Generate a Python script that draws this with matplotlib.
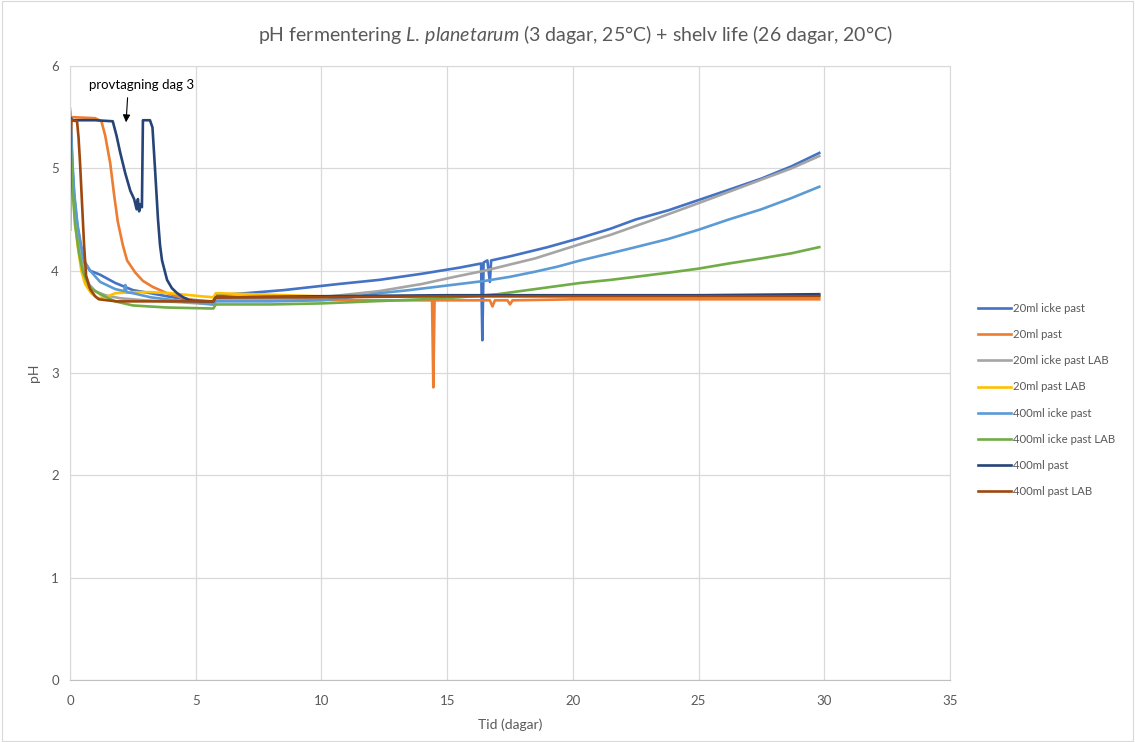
import numpy as np
import matplotlib.pyplot as plt

plt.rcParams['font.family'] = ['Lato', 'DejaVu Sans']
plt.rcParams['mathtext.fontset'] = 'custom'
plt.rcParams['mathtext.it'] = 'Lato:italic'
plt.rcParams['mathtext.rm'] = 'Lato'

# tid (dagar) och pH, avlästa punkter
t_20_icke = [0, 0.05, 0.1, 0.17, 0.3, 0.44, 0.56, 0.8, 1.2, 1.8, 2.5, 3.2, 3.85, 4.6, 5.6, 5.7, 5.8, 7.0, 8.5, 10.7, 12.3,
             14.0, 15.5, 16.35, 16.4, 16.45, 16.6, 16.7, 16.75, 17.5, 19.0, 20.3, 21.5, 22.5, 23.8, 25.0, 26.2, 27.5, 28.7, 29.8]
ph_20_icke = [5.55, 5.3, 5.0, 4.72, 4.42, 4.22, 4.08, 4.0, 3.96, 3.88, 3.81, 3.78, 3.75, 3.72, 3.7, 3.7, 3.76, 3.78, 3.81, 3.87, 3.91,
              3.97, 4.03, 4.07, 3.32, 4.08, 4.1, 3.89, 4.1, 4.14, 4.23, 4.32, 4.41, 4.5, 4.59, 4.69, 4.79, 4.9, 5.02, 5.15]

t_20_past = [0, 0.1, 1.0, 1.25, 1.4, 1.6, 1.75, 1.9, 2.1, 2.27, 2.6, 2.9, 3.3, 3.86, 4.4, 4.9, 5.7, 5.8, 8.0, 12.0, 14.4, 14.45,
             14.5, 16.7, 16.8, 16.9, 17.4, 17.5, 17.6, 20.0, 25.0, 29.8]
ph_20_past = [5.5, 5.5, 5.49, 5.46, 5.32, 5.05, 4.75, 4.48, 4.25, 4.1, 3.98, 3.9, 3.84, 3.78, 3.74, 3.71, 3.69, 3.72, 3.72, 3.71,
              3.71, 2.86, 3.71, 3.71, 3.65, 3.71, 3.71, 3.67, 3.71, 3.72, 3.72, 3.72]

t_20_icke_lab = [0, 0.05, 0.12, 0.2, 0.3, 0.42, 0.55, 0.75, 1.0, 1.4, 2.0, 3.0, 4.5, 5.7, 5.8, 8.0, 10.0, 12.3, 14.0, 15.3, 16.5,
                 17.5, 18.5, 20.3, 21.5, 23.0, 24.0, 25.0, 26.2, 27.5, 28.7, 29.8]
ph_20_icke_lab = [5.5, 5.2, 4.85, 4.6, 4.35, 4.15, 4.0, 3.87, 3.8, 3.76, 3.73, 3.71, 3.69, 3.67, 3.71, 3.72, 3.74, 3.8, 3.87, 3.94,
                  4.0, 4.06, 4.12, 4.26, 4.35, 4.48, 4.57, 4.66, 4.77, 4.89, 5.0, 5.12]

t_20_past_lab = [0, 0.05, 0.12, 0.2, 0.3, 0.45, 0.6, 0.84, 1.1, 1.4, 1.8, 2.5, 3.2, 4.0, 5.2, 5.7, 5.8, 10.0, 15.0, 20.0, 25.0, 29.8]
ph_20_past_lab = [5.5, 5.15, 4.8, 4.5, 4.25, 4.0, 3.87, 3.78, 3.73, 3.74, 3.78, 3.79, 3.79, 3.78, 3.75, 3.74, 3.78, 3.75, 3.75, 3.75,
                  3.75, 3.75]

t_400_icke = [0, 0.05, 0.1, 0.17, 0.3, 0.44, 0.56, 0.8, 1.2, 1.8, 2.15, 2.2, 2.25, 2.5, 3.2, 3.85, 4.6, 5.7, 5.8, 8.0, 10.0, 11.2,
              12.3, 13.5, 14.5, 15.5, 16.5, 17.5, 18.5, 19.4, 20.3, 21.5, 22.5, 23.8, 25.0, 26.2, 27.5, 28.7, 29.8]
ph_400_icke = [5.58, 5.35, 5.05, 4.75, 4.45, 4.25, 4.1, 4.0, 3.89, 3.82, 3.8, 3.86, 3.79, 3.78, 3.74, 3.72, 3.7, 3.67, 3.7, 3.7,
               3.71, 3.74, 3.78, 3.81, 3.84, 3.87, 3.9, 3.94, 3.99, 4.04, 4.1, 4.17, 4.23, 4.31, 4.4, 4.5, 4.6, 4.71, 4.82]

t_400_icke_lab = [0, 0.05, 0.1, 0.2, 0.36, 0.5, 0.76, 1.2, 1.8, 2.5, 3.85, 5.7, 5.8, 8.0, 10.0, 12.0, 14.0, 15.5, 17.0, 18.5, 20.3,
                  21.5, 22.5, 23.8, 25.0, 26.2, 27.5, 28.7, 29.8]
ph_400_icke_lab = [5.45, 5.1, 4.8, 4.45, 4.17, 4.0, 3.84, 3.77, 3.7, 3.66, 3.64, 3.63, 3.67, 3.67, 3.68, 3.7, 3.72, 3.74, 3.77, 3.82,
                   3.88, 3.91, 3.94, 3.98, 4.02, 4.07, 4.12, 4.17, 4.23]

t_400_past = [0, 0.1, 1.0, 1.7, 1.85, 2.0, 2.2, 2.4, 2.55, 2.65, 2.7, 2.75, 2.8, 2.86, 2.9, 3.18, 3.28, 3.38, 3.5, 3.58, 3.66,
              3.86, 4.05, 4.26, 4.5, 4.77, 5.2, 5.7, 5.8, 10.0, 15.0, 20.0, 25.0, 29.8]
ph_400_past = [5.5, 5.47, 5.47, 5.46, 5.32, 5.15, 4.95, 4.78, 4.7, 4.6, 4.7, 4.58, 4.65, 4.62, 5.47, 5.47, 5.4, 5.0, 4.5, 4.25,
               4.1, 3.91, 3.83, 3.78, 3.74, 3.71, 3.7, 3.7, 3.74, 3.75, 3.76, 3.76, 3.76, 3.77]

t_400_past_lab = [0, 0.03, 0.06, 0.28, 0.34, 0.4, 0.48, 0.56, 0.64, 0.8, 1.0, 1.15, 1.5, 1.85, 3.0, 4.5, 5.7, 5.8, 10.0, 15.0,
                  20.0, 25.0, 29.8]
ph_400_past_lab = [4.4, 5.3, 5.47, 5.46, 5.3, 5.05, 4.65, 4.25, 3.95, 3.82, 3.75, 3.72, 3.71, 3.7, 3.7, 3.7, 3.7, 3.74, 3.74, 3.75,
                   3.75, 3.75, 3.75]

series = [
    ("20ml icke past", t_20_icke, ph_20_icke, "#4472C4"),
    ("20ml past", t_20_past, ph_20_past, "#ED7D31"),
    ("20ml icke past LAB", t_20_icke_lab, ph_20_icke_lab, "#A5A5A5"),
    ("20ml past LAB", t_20_past_lab, ph_20_past_lab, "#FFC000"),
    ("400ml icke past", t_400_icke, ph_400_icke, "#5B9BD5"),
    ("400ml icke past LAB", t_400_icke_lab, ph_400_icke_lab, "#70AD47"),
    ("400ml past", t_400_past, ph_400_past, "#264478"),
    ("400ml past LAB", t_400_past_lab, ph_400_past_lab, "#9E480E"),
]

fig = plt.figure(figsize=(11.35, 7.42), dpi=100)
ax = fig.add_axes([70 / 1135, 62 / 742, 880 / 1135, 614 / 742])

for namn, t, ph, farg in series:
    ax.plot(t, ph, color=farg, lw=1.9, label=namn, solid_joinstyle='round')

ax.set_xlim(0, 35)
ax.set_ylim(0, 6)
ax.set_xticks(np.arange(0, 36, 5))
ax.set_yticks(np.arange(0, 7, 1))
ax.grid(True, color="#D9D9D9", lw=0.9)
ax.set_axisbelow(True)
for s in ax.spines.values():
    s.set_color("#D9D9D9")
ax.spines['bottom'].set_color("#BFBFBF")
ax.tick_params(length=0, colors="#595959", labelsize=9.5)
ax.tick_params(axis='x', pad=11)
ax.tick_params(axis='y', pad=8)
ax.set_xlabel("Tid (dagar)", color="#595959", fontsize=10, labelpad=8)
ax.set_ylabel("pH", color="#595959", fontsize=10, labelpad=8)

fig.suptitle(r"pH fermentering $\it{L.\!\ planetarum}$ (3 dagar, 25°C) + shelv life (26 dagar, 20°C)",
             x=0.507, y=1 - 35 / 742, va="center", color="#595959", fontsize=14)

ax.text(2.85, 5.81, "provtagning dag 3", ha="center", va="center", fontsize=9.5, color="black")
ax.annotate("", xy=(2.23, 5.45), xytext=(2.29, 5.69),
            arrowprops=dict(arrowstyle="-|>", color="black", lw=0.8, mutation_scale=11,
                            shrinkA=0, shrinkB=0))

leg = ax.legend(loc="center left", bbox_to_anchor=(1.02, 0.456), frameon=False,
                fontsize=8.2, labelspacing=1.32, handlelength=2.9, handletextpad=0.2)
for txt in leg.get_texts():
    txt.set_color("#595959")

fig.patches.append(plt.Rectangle((0.002, 0.002), 0.996, 0.996, transform=fig.transFigure,
                                 fill=False, edgecolor="#D9D9D9", lw=0.8))

fig.savefig("out.png", dpi=100)
